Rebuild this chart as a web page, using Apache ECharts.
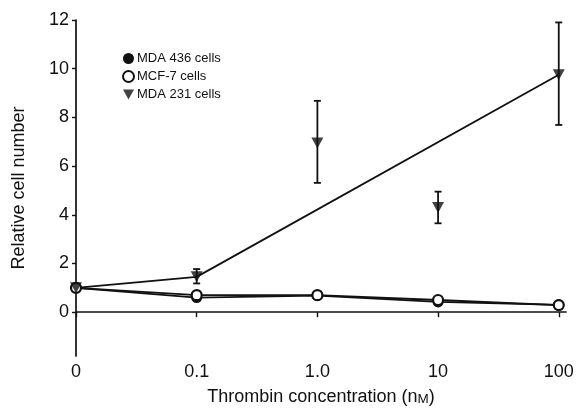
<!DOCTYPE html>
<html>
<head>
<meta charset="utf-8">
<script src="https://cdn.jsdelivr.net/npm/echarts@6/dist/echarts.min.js"></script>
<style>html,body{margin:0;padding:0;background:#fff}#c{width:577px;height:408px}</style>
</head>
<body>
<div id="c"></div>
<script>
var xLabels = ['0', '0.1', '1.0', '10', '100'];
var yTicks = [0, 2, 4, 6, 8, 10, 12];
var mda436 = [1.0, 0.6, 0.68, 0.42, 0.3];
var mcf7 = [1.0, 0.7, 0.7, 0.5, 0.29];
var mda231 = [1.0, 1.45, 6.95, 4.3, 9.75];
var mda231Low = [0.9, 1.18, 5.31, 3.65, 7.69];
var mda231High = [1.1, 1.77, 8.68, 4.95, 11.9];
// fitted trend line drawn in the original (through 0, 0.1 and 100 only)
var trendIdx = [0, 1, 4];

function pts(arr) { return arr.map(function (v, i) { return [i, v]; }); }

var font = 'Liberation Sans, Arial, Helvetica, sans-serif';
var chart = echarts.init(document.getElementById('c'));
var triPath = 'path://M0,0 L10,0 L5,9 Z';

chart.setOption({
  animation: false,
  textStyle: { fontFamily: font },
  grid: { left: 76, right: 11, top: 20, bottom: 52, containLabel: false, outerBoundsMode: 'none' },
  legend: {
    orient: 'vertical', left: 117, top: 47, itemGap: 5, itemWidth: 11, itemHeight: 11,
    textStyle: { fontFamily: font, fontSize: 13, color: '#111', padding: [0, 0, 0, -2] },
    data: [
      { name: 'MDA 436 cells', icon: 'circle' },
      { name: 'MCF-7 cells', icon: 'circle' },
      { name: 'MDA 231 cells', icon: triPath }
    ]
  },
  xAxis: {
    type: 'value', min: 0, max: 4.06,
    name: 'Thrombin concentration (n{sc|M})', nameLocation: 'middle', nameGap: 32,
    nameTextStyle: { fontFamily: font, fontSize: 18, color: '#111',
      rich: { sc: { fontFamily: font, fontSize: 13.5, color: '#111', verticalAlign: 'bottom' } } },
    axisLine: { lineStyle: { color: '#111', width: 1.7 } },
    axisTick: { length: 5, lineStyle: { color: '#111', width: 1.4 }, customValues: [0, 1, 2, 3, 4] },
    axisLabel: { fontFamily: font, fontSize: 18, color: '#111', margin: 7,
      customValues: [0, 1, 2, 3, 4],
      formatter: function (v) { return xLabels[Math.round(v)]; } },
    splitLine: { show: false }
  },
  yAxis: {
    type: 'value', min: -1.8, max: 12,
    name: 'Relative cell number', nameLocation: 'middle', nameGap: 48,
    nameTextStyle: { fontFamily: font, fontSize: 18, color: '#111' },
    axisLine: { show: true, lineStyle: { color: '#111', width: 1.7 } },
    axisTick: { show: true, length: 4, lineStyle: { color: '#111', width: 1.4 }, customValues: yTicks },
    axisLabel: { fontFamily: font, fontSize: 18, color: '#111', margin: 7, customValues: yTicks },
    splitLine: { show: false }
  },
  series: [
    {
      name: 'MDA 231 trend', type: 'line', symbol: 'none', z: 2,
      data: trendIdx.map(function (i) { return [i, mda231[i]]; }),
      lineStyle: { color: '#111', width: 1.8 }
    },
    {
      name: 'MDA 231 err', type: 'custom', z: 3,
      data: mda231Low.map(function (v, i) { return [i, v, mda231High[i]]; }),
      renderItem: function (params, api) {
        var lo = api.coord([api.value(0), api.value(1)]);
        var hi = api.coord([api.value(0), api.value(2)]);
        var w = 3.5;
        var st = { stroke: '#111', lineWidth: 1.8 };
        return { type: 'group', children: [
          { type: 'line', shape: { x1: lo[0], y1: lo[1], x2: hi[0], y2: hi[1] }, style: st },
          { type: 'line', shape: { x1: lo[0] - w, y1: lo[1], x2: lo[0] + w, y2: lo[1] }, style: st },
          { type: 'line', shape: { x1: hi[0] - w, y1: hi[1], x2: hi[0] + w, y2: hi[1] }, style: st }
        ] };
      }
    },
    {
      name: 'MDA 436 cells', type: 'line', data: pts(mda436), z: 4,
      symbol: 'circle', symbolSize: 11,
      lineStyle: { color: '#111', width: 1.8 },
      itemStyle: { color: '#111', borderColor: '#111', borderWidth: 0 }
    },
    {
      name: 'MCF-7 cells', type: 'line', data: pts(mcf7), z: 5,
      symbol: 'circle', symbolSize: 10,
      lineStyle: { color: '#111', width: 1.8 },
      itemStyle: { color: '#fff', borderColor: '#111', borderWidth: 2.2 }
    },
    {
      name: 'MDA 231 cells', type: 'scatter', data: pts(mda231), z: 6,
      symbol: triPath, symbolSize: [12, 11],
      itemStyle: { color: '#111' }
    }
  ]
});
</script>
</body>
</html>
